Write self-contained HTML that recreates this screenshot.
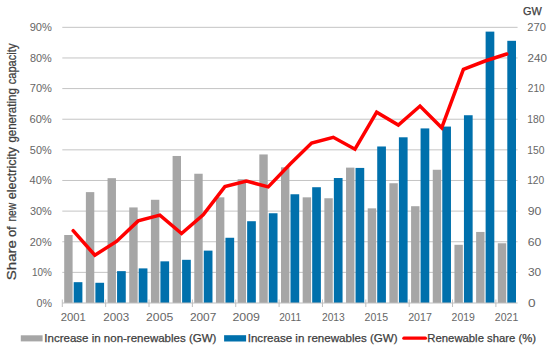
<!DOCTYPE html>
<html><head><meta charset="utf-8"><style>
html,body{margin:0;padding:0;background:#fff;width:550px;height:354px;overflow:hidden}
svg{display:block}
text{font-family:"Liberation Sans",sans-serif}
.ax{font-size:10.5px;fill:#666666}
.lg{font-size:11.5px;fill:#404040;stroke:#404040;stroke-width:0.25px}
.tt{font-size:12.2px;fill:#404040;stroke:#404040;stroke-width:0.25px}
</style></head><body>
<svg width="550" height="354" viewBox="0 0 550 354">
<line x1="62.3" x2="517.58" y1="272.37" y2="272.37" stroke="#c4c4c4" stroke-width="1"/>
<line x1="62.3" x2="517.58" y1="241.74" y2="241.74" stroke="#c4c4c4" stroke-width="1"/>
<line x1="62.3" x2="517.58" y1="211.11" y2="211.11" stroke="#c4c4c4" stroke-width="1"/>
<line x1="62.3" x2="517.58" y1="180.48" y2="180.48" stroke="#c4c4c4" stroke-width="1"/>
<line x1="62.3" x2="517.58" y1="149.85" y2="149.85" stroke="#c4c4c4" stroke-width="1"/>
<line x1="62.3" x2="517.58" y1="119.22" y2="119.22" stroke="#c4c4c4" stroke-width="1"/>
<line x1="62.3" x2="517.58" y1="88.59" y2="88.59" stroke="#c4c4c4" stroke-width="1"/>
<line x1="62.3" x2="517.58" y1="57.96" y2="57.96" stroke="#c4c4c4" stroke-width="1"/>
<line x1="62.3" x2="517.58" y1="27.33" y2="27.33" stroke="#c4c4c4" stroke-width="1"/>
<rect x="64.20" y="235.00" width="8.40" height="68.00" fill="#a6a6a6"/>
<rect x="73.70" y="282.17" width="8.70" height="20.83" fill="#0070ac"/>
<rect x="85.88" y="192.12" width="8.40" height="110.88" fill="#a6a6a6"/>
<rect x="95.38" y="282.78" width="8.70" height="20.22" fill="#0070ac"/>
<rect x="107.56" y="178.18" width="8.40" height="124.82" fill="#a6a6a6"/>
<rect x="117.06" y="271.14" width="8.70" height="31.86" fill="#0070ac"/>
<rect x="129.24" y="207.43" width="8.40" height="95.57" fill="#a6a6a6"/>
<rect x="138.74" y="268.39" width="8.70" height="34.61" fill="#0070ac"/>
<rect x="150.92" y="199.78" width="8.40" height="103.22" fill="#a6a6a6"/>
<rect x="160.42" y="261.34" width="8.70" height="41.66" fill="#0070ac"/>
<rect x="172.60" y="155.98" width="8.40" height="147.02" fill="#a6a6a6"/>
<rect x="182.10" y="259.81" width="8.70" height="43.19" fill="#0070ac"/>
<rect x="194.28" y="173.74" width="8.40" height="129.26" fill="#a6a6a6"/>
<rect x="203.78" y="250.62" width="8.70" height="52.38" fill="#0070ac"/>
<rect x="215.96" y="197.33" width="8.40" height="105.67" fill="#a6a6a6"/>
<rect x="225.46" y="237.76" width="8.70" height="65.24" fill="#0070ac"/>
<rect x="237.64" y="179.25" width="8.40" height="123.75" fill="#a6a6a6"/>
<rect x="247.14" y="221.22" width="8.70" height="81.78" fill="#0070ac"/>
<rect x="259.32" y="154.44" width="8.40" height="148.56" fill="#a6a6a6"/>
<rect x="268.82" y="213.25" width="8.70" height="89.75" fill="#0070ac"/>
<rect x="281.00" y="167.31" width="8.40" height="135.69" fill="#a6a6a6"/>
<rect x="290.50" y="194.26" width="8.70" height="108.74" fill="#0070ac"/>
<rect x="302.68" y="197.33" width="8.40" height="105.67" fill="#a6a6a6"/>
<rect x="312.18" y="187.22" width="8.70" height="115.78" fill="#0070ac"/>
<rect x="324.36" y="198.25" width="8.40" height="104.75" fill="#a6a6a6"/>
<rect x="333.86" y="178.03" width="8.70" height="124.97" fill="#0070ac"/>
<rect x="346.04" y="167.62" width="8.40" height="135.38" fill="#a6a6a6"/>
<rect x="355.54" y="167.92" width="8.70" height="135.08" fill="#0070ac"/>
<rect x="367.72" y="208.35" width="8.40" height="94.65" fill="#a6a6a6"/>
<rect x="377.22" y="146.48" width="8.70" height="156.52" fill="#0070ac"/>
<rect x="389.40" y="183.24" width="8.40" height="119.76" fill="#a6a6a6"/>
<rect x="398.90" y="137.29" width="8.70" height="165.71" fill="#0070ac"/>
<rect x="411.08" y="206.21" width="8.40" height="96.79" fill="#a6a6a6"/>
<rect x="420.58" y="128.41" width="8.70" height="174.59" fill="#0070ac"/>
<rect x="432.76" y="169.76" width="8.40" height="133.24" fill="#a6a6a6"/>
<rect x="442.26" y="126.57" width="8.70" height="176.43" fill="#0070ac"/>
<rect x="454.44" y="244.80" width="8.40" height="58.20" fill="#a6a6a6"/>
<rect x="463.94" y="115.24" width="8.70" height="187.76" fill="#0070ac"/>
<rect x="476.12" y="231.94" width="8.40" height="71.06" fill="#a6a6a6"/>
<rect x="485.62" y="31.62" width="8.70" height="271.38" fill="#0070ac"/>
<rect x="497.80" y="243.27" width="8.40" height="59.73" fill="#a6a6a6"/>
<rect x="507.30" y="40.81" width="8.70" height="262.19" fill="#0070ac"/>
<line x1="62.3" x2="517.58" y1="303.0" y2="303.0" stroke="#bfbfbf" stroke-width="1"/>
<line x1="62.30" x2="62.30" y1="299.5" y2="307.0" stroke="#bfbfbf" stroke-width="1"/>
<line x1="105.66" x2="105.66" y1="299.5" y2="307.0" stroke="#bfbfbf" stroke-width="1"/>
<line x1="149.02" x2="149.02" y1="299.5" y2="307.0" stroke="#bfbfbf" stroke-width="1"/>
<line x1="192.38" x2="192.38" y1="299.5" y2="307.0" stroke="#bfbfbf" stroke-width="1"/>
<line x1="235.74" x2="235.74" y1="299.5" y2="307.0" stroke="#bfbfbf" stroke-width="1"/>
<line x1="279.10" x2="279.10" y1="299.5" y2="307.0" stroke="#bfbfbf" stroke-width="1"/>
<line x1="322.46" x2="322.46" y1="299.5" y2="307.0" stroke="#bfbfbf" stroke-width="1"/>
<line x1="365.82" x2="365.82" y1="299.5" y2="307.0" stroke="#bfbfbf" stroke-width="1"/>
<line x1="409.18" x2="409.18" y1="299.5" y2="307.0" stroke="#bfbfbf" stroke-width="1"/>
<line x1="452.54" x2="452.54" y1="299.5" y2="307.0" stroke="#bfbfbf" stroke-width="1"/>
<line x1="495.90" x2="495.90" y1="299.5" y2="307.0" stroke="#bfbfbf" stroke-width="1"/>
<polyline points="73.14,230.71 94.82,255.22 116.50,241.43 138.18,220.91 159.86,215.09 181.54,233.47 203.22,214.79 224.90,186.61 246.58,181.09 268.26,186.91 289.94,164.25 311.62,143.11 333.30,137.29 354.98,149.24 376.66,112.18 398.34,125.04 420.02,106.05 441.70,127.80 463.38,69.29 485.06,61.02 506.74,53.98" fill="none" stroke="#ff0000" stroke-width="3.5" stroke-linejoin="miter" stroke-linecap="round"/>
<text x="36.54" y="306.80" class="ax" textLength="15.46" lengthAdjust="spacingAndGlyphs">0%</text>
<text x="32.07" y="276.17" class="ax" textLength="19.86" lengthAdjust="spacingAndGlyphs">10%</text>
<text x="29.79" y="245.54" class="ax" textLength="21.82" lengthAdjust="spacingAndGlyphs">20%</text>
<text x="29.94" y="214.91" class="ax" textLength="21.76" lengthAdjust="spacingAndGlyphs">30%</text>
<text x="29.63" y="184.28" class="ax" textLength="22.06" lengthAdjust="spacingAndGlyphs">40%</text>
<text x="29.87" y="153.65" class="ax" textLength="21.76" lengthAdjust="spacingAndGlyphs">50%</text>
<text x="29.52" y="123.02" class="ax" textLength="22.21" lengthAdjust="spacingAndGlyphs">60%</text>
<text x="29.73" y="92.39" class="ax" textLength="22.18" lengthAdjust="spacingAndGlyphs">70%</text>
<text x="30.02" y="61.76" class="ax" textLength="21.78" lengthAdjust="spacingAndGlyphs">80%</text>
<text x="29.71" y="31.13" class="ax" textLength="22.21" lengthAdjust="spacingAndGlyphs">90%</text>
<text x="527.93" y="306.80" class="ax" textLength="7.59" lengthAdjust="spacingAndGlyphs">0</text>
<text x="527.98" y="276.17" class="ax" textLength="13.28" lengthAdjust="spacingAndGlyphs">30</text>
<text x="527.72" y="245.54" class="ax" textLength="13.62" lengthAdjust="spacingAndGlyphs">60</text>
<text x="527.72" y="214.91" class="ax" textLength="13.65" lengthAdjust="spacingAndGlyphs">90</text>
<text x="527.15" y="184.28" class="ax" textLength="17.13" lengthAdjust="spacingAndGlyphs">120</text>
<text x="527.34" y="153.65" class="ax" textLength="17.26" lengthAdjust="spacingAndGlyphs">150</text>
<text x="527.34" y="123.02" class="ax" textLength="17.26" lengthAdjust="spacingAndGlyphs">180</text>
<text x="527.87" y="92.39" class="ax" textLength="16.81" lengthAdjust="spacingAndGlyphs">210</text>
<text x="527.60" y="61.76" class="ax" textLength="19.52" lengthAdjust="spacingAndGlyphs">240</text>
<text x="527.35" y="31.13" class="ax" textLength="18.64" lengthAdjust="spacingAndGlyphs">270</text>
<text x="60.65" y="320.80" class="ax" textLength="25.21" lengthAdjust="spacingAndGlyphs">2001</text>
<text x="103.32" y="320.80" class="ax" textLength="25.89" lengthAdjust="spacingAndGlyphs">2003</text>
<text x="146.09" y="320.80" class="ax" textLength="27.12" lengthAdjust="spacingAndGlyphs">2005</text>
<text x="189.90" y="320.80" class="ax" textLength="26.41" lengthAdjust="spacingAndGlyphs">2007</text>
<text x="232.48" y="320.80" class="ax" textLength="27.53" lengthAdjust="spacingAndGlyphs">2009</text>
<text x="279.18" y="320.80" class="ax" textLength="21.87" lengthAdjust="spacingAndGlyphs">2011</text>
<text x="321.93" y="320.80" class="ax" textLength="22.90" lengthAdjust="spacingAndGlyphs">2013</text>
<text x="364.64" y="320.80" class="ax" textLength="23.45" lengthAdjust="spacingAndGlyphs">2015</text>
<text x="408.15" y="320.80" class="ax" textLength="23.66" lengthAdjust="spacingAndGlyphs">2017</text>
<text x="451.58" y="320.80" class="ax" textLength="23.27" lengthAdjust="spacingAndGlyphs">2019</text>
<text x="494.82" y="320.80" class="ax" textLength="23.46" lengthAdjust="spacingAndGlyphs">2021</text>
<text x="523.12" y="15.40" class="lg" textLength="18.77" lengthAdjust="spacingAndGlyphs">GW</text>
<text transform="translate(16.4,279.60) rotate(-90)" x="-0.60" y="0" class="tt" textLength="40.20" lengthAdjust="spacingAndGlyphs">Share</text>
<text transform="translate(16.4,237.30) rotate(-90)" x="0.20" y="0" class="tt" textLength="10.80" lengthAdjust="spacingAndGlyphs">of</text>
<text transform="translate(16.4,221.80) rotate(-90)" x="0.20" y="0" class="tt" textLength="18.80" lengthAdjust="spacingAndGlyphs">new</text>
<text transform="translate(16.4,198.90) rotate(-90)" x="-0.40" y="0" class="tt" textLength="52.40" lengthAdjust="spacingAndGlyphs">electricity</text>
<text transform="translate(16.4,142.80) rotate(-90)" x="0.20" y="0" class="tt" textLength="54.40" lengthAdjust="spacingAndGlyphs">generating</text>
<text transform="translate(16.4,84.90) rotate(-90)" x="0.60" y="0" class="tt" textLength="40.80" lengthAdjust="spacingAndGlyphs">capacity</text>
<rect x="20.8" y="335.3" width="21.8" height="6.1" fill="#a6a6a6"/>
<text x="44.39" y="341.90" class="lg" textLength="172.00" lengthAdjust="spacingAndGlyphs">Increase in non-renewables (GW)</text>
<rect x="224.1" y="335.2" width="22.0" height="6.3" fill="#0070ac"/>
<text x="247.72" y="341.90" class="lg" textLength="149.86" lengthAdjust="spacingAndGlyphs">Increase in renewables (GW)</text>
<line x1="403.9" x2="425.4" y1="338.2" y2="338.2" stroke="#ff0000" stroke-width="3.3" stroke-linecap="round"/>
<text x="427.35" y="341.90" class="lg" textLength="108.75" lengthAdjust="spacingAndGlyphs">Renewable share (%)</text>
</svg>
</body></html>
